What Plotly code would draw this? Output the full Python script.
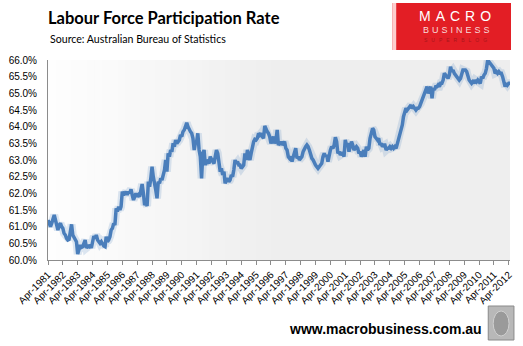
import pandas as pd
import plotly.graph_objects as go

# Monthly participation rate (%), April 1981 onward, one row per April-March year
rate = [
    61.2, 61.1, 61.0, 61.1, 61.2, 61.35, 61.2, 61.0, 60.9, 61.05, 61.1, 61.0,
    60.95, 60.8, 60.75, 60.65, 60.6, 60.62, 60.8, 61.07, 60.75, 60.66, 60.6, 60.55,
    60.18, 60.3, 60.45, 60.38, 60.4, 60.5, 60.6, 60.36, 60.42, 60.4, 60.45, 60.36,
    60.5, 60.72, 60.65, 60.75, 60.6, 60.55, 60.5, 60.55, 60.45, 60.42, 60.4, 60.7,
    60.55, 60.6, 60.7, 60.9, 60.95, 61.1, 61.05, 61.55, 61.45, 61.6, 61.5, 61.6,
    62.05, 61.95, 62.0, 62.05, 61.95, 62.05, 62.0, 62.12, 61.95, 61.8, 61.9, 62.0,
    61.9, 61.95, 61.9, 62.1, 62.28, 62.0, 61.65, 61.7, 61.62, 62.35, 62.2, 62.45,
    62.8, 62.5, 62.35, 62.1, 61.85, 62.35, 62.3, 62.45, 62.4, 62.55, 62.7, 63.0,
    62.65, 63.2, 63.1, 63.3, 63.25, 63.5, 63.4, 63.6, 63.5, 63.55, 63.6, 63.75,
    63.7, 63.85, 63.9, 64.0, 64.12, 64.0, 63.9, 63.85, 63.8, 63.65, 63.3, 63.5,
    63.55, 63.8, 63.3, 63.1, 62.45, 63.2, 63.3, 62.85, 63.0, 62.95, 62.9, 63.1,
    63.0, 62.95, 62.9, 63.05, 63.3, 63.2, 62.9, 62.65, 62.75, 62.55, 62.65, 62.3,
    62.4, 62.45, 62.35, 62.4, 62.55, 62.5, 62.7, 63.0, 62.9, 62.95, 62.85, 62.85,
    62.75, 62.8, 62.85, 63.2, 63.0, 63.3, 63.15, 63.0, 63.2, 63.4, 63.55, 63.62,
    63.6, 63.65, 63.8, 63.75, 63.8, 63.7, 63.65, 64.02, 63.9, 63.85, 63.8, 63.7,
    63.5, 63.6, 63.7, 63.5, 63.6, 63.9, 63.45, 63.5, 63.55, 63.45, 63.5, 63.55,
    63.35, 63.3, 63.1, 63.05, 63.1, 62.95, 63.1, 63.2, 63.35, 63.05, 63.1, 63.0,
    63.05, 63.1, 63.25, 63.35, 63.4, 63.45, 63.4, 63.3, 63.15, 63.05, 63.0, 62.9,
    62.85, 62.8, 62.75, 62.8, 62.85, 62.9, 63.1, 63.2, 63.1, 63.15, 62.95, 63.2,
    63.3, 63.4, 63.35, 63.45, 63.68, 63.55, 63.2, 63.25, 63.15, 63.2, 63.2, 63.1,
    63.6, 63.45, 63.5, 63.25, 63.4, 63.55, 63.45, 63.3, 63.35, 63.4, 63.35, 63.2,
    63.25, 63.1, 63.2, 63.3, 63.1, 63.4, 63.3, 63.35, 63.65, 63.8, 63.95, 63.9,
    63.7, 63.65, 63.6, 63.65, 63.45, 63.5, 63.4, 63.45, 63.45, 63.3, 63.35, 63.35,
    63.4, 63.35, 63.4, 63.35, 63.4, 63.35, 63.5, 63.6, 63.7, 63.85, 64.05, 64.3,
    64.45, 64.55, 64.5, 64.55, 64.6, 64.65, 64.55, 64.6, 64.55, 64.5, 64.55, 64.55,
    64.6, 64.7, 64.8, 64.85, 64.95, 65.05, 65.2, 65.0, 65.1, 65.2, 64.85, 65.15,
    65.1, 65.2, 65.2, 65.25, 65.2, 65.3, 65.3, 65.4, 65.6, 65.55, 65.5, 65.45,
    65.55, 65.8, 65.65, 65.7, 65.6, 65.55, 65.5, 65.45, 65.4, 65.45, 65.55, 65.7,
    65.7, 65.7, 65.65, 65.5, 65.4, 65.35, 65.3, 65.35, 65.3, 65.4, 65.35, 65.4,
    65.35, 65.3, 65.5, 65.45, 65.55, 65.6, 65.75, 66.0, 65.95, 65.9, 65.85, 65.8,
    65.75, 65.6, 65.65, 65.6, 65.65, 65.6, 65.6, 65.5, 65.35, 65.2, 65.3, 65.25,
    65.3, 65.3,
]
months = pd.date_range("1981-04-01", periods=len(rate), freq="MS")

title_text = "Labour Force Participation Rate"
source_text = "Source: Australian Bureau of Statistics"
site_text = "www.macrobusiness.com.au"

LINE = "#4a7ebb"

# figure geometry (pixels) and the plot area inside it
W, H = 523, 346
ML, MR, MT, MB = 47, 9, 60, 86
PW, PH = W - ML - MR, H - MT - MB


def px(x):
    """figure pixel column -> paper x"""
    return (x - ML) / PW


def py(y):
    """figure pixel row (from top) -> paper y"""
    return (H - MB - y) / PH


fig = go.Figure()
# soft halo under the series
fig.add_trace(go.Scatter(x=months, y=rate, mode="lines",
                         line=dict(color="rgba(74,126,187,0.18)", width=8),
                         hoverinfo="skip", showlegend=False))
fig.add_trace(go.Scatter(x=months, y=rate, mode="lines",
                         line=dict(color=LINE, width=3.5),
                         showlegend=False))

# plot-area background: white fading to light grey, drawn as narrow bands
shapes = []
n_bands = 30
fade_end = 0.5
for i in range(n_bands):
    t = i / (n_bands - 1)
    g = round(254 - (254 - 238) * t)
    shapes.append(dict(type="rect", xref="x domain", yref="y domain",
                       x0=fade_end * i / n_bands, x1=fade_end * (i + 1) / n_bands + 0.002,
                       y0=0, y1=1, fillcolor=f"rgb({g},{g},{g})",
                       line=dict(width=0), layer="below"))
shapes.append(dict(type="rect", xref="x domain", yref="y domain",
                   x0=fade_end, x1=1, y0=0, y1=1, fillcolor="rgb(238,238,238)",
                   line=dict(width=0), layer="below"))

# header badge
shapes.append(dict(type="rect", xref="paper", yref="paper",
                   x0=px(395), x1=px(515), y0=py(50), y1=py(3),
                   fillcolor="#e31e25", line=dict(width=0), layer="above"))
shapes.append(dict(type="rect", xref="paper", yref="paper",
                   x0=px(395), x1=px(399), y0=py(50), y1=py(3),
                   fillcolor="rgba(255,225,225,0.9)", line=dict(width=0), layer="above"))
# footer emblem
shapes.append(dict(type="rect", xref="paper", yref="paper",
                   x0=px(492), x1=px(518), y0=py(340), y1=py(306),
                   fillcolor="#b8b8b8", line=dict(color="#8a8a8a", width=1), layer="above"))
shapes.append(dict(type="circle", xref="paper", yref="paper",
                   x0=px(497), x1=px(513), y0=py(336), y1=py(311),
                   fillcolor="#9a9a9a", line=dict(color="#d0d0d0", width=1), layer="above"))

HEAD_FONT = "Lato, Liberation Sans"
annotations = [
    dict(text=f"<b>{title_text}</b>", x=px(45), y=py(18), xref="paper", yref="paper",
         xanchor="left", yanchor="middle", showarrow=False,
         font=dict(family=HEAD_FONT, size=16.5, color="#000")),
    dict(text=source_text, x=px(47), y=py(39), xref="paper", yref="paper",
         xanchor="left", yanchor="middle", showarrow=False,
         font=dict(family=HEAD_FONT, size=10.6, color="#000")),
    dict(text='<span style="letter-spacing:5px">MACRO</span>', x=px(461), y=py(16),
         xref="paper", yref="paper", xanchor="center", yanchor="middle", showarrow=False,
         font=dict(family="Liberation Sans", size=14, color="#ffffff")),
    dict(text='<span style="letter-spacing:3px">BUSINESS</span>', x=px(461), y=py(30),
         xref="paper", yref="paper", xanchor="center", yanchor="middle", showarrow=False,
         font=dict(family="Liberation Sans", size=9, color="#f8dada")),
    dict(text='<span style="letter-spacing:4px">SUPERBLOG</span>', x=px(461), y=py(40),
         xref="paper", yref="paper", xanchor="center", yanchor="middle", showarrow=False,
         font=dict(family="Liberation Sans", size=5, color="#a8161b")),
    dict(text=f"<b>{site_text}</b>", x=px(488), y=py(329), xref="paper", yref="paper",
         xanchor="right", yanchor="middle", showarrow=False,
         font=dict(family="Liberation Sans", size=14, color="#000")),
]

fig.update_layout(
    width=W, height=H,
    margin=dict(l=ML, r=MR, t=MT, b=MB),
    paper_bgcolor="white", plot_bgcolor="rgba(0,0,0,0)",
    shapes=shapes, annotations=annotations,
    xaxis=dict(type="date", range=[months[0], months[-1]],
               tick0="1981-04-01", dtick="M12", tickformat="%b-%Y", tickangle=-45,
               showgrid=False, zeroline=False, showline=True, linecolor="#8c8c8c", linewidth=1,
               ticks="outside", ticklen=4, tickcolor="#8c8c8c",
               tickfont=dict(family="Liberation Sans", size=10, color="#000")),
    yaxis=dict(range=[60, 66], dtick=0.5, tickformat=".1f", ticksuffix="%",
               showgrid=False, zeroline=False, showline=True, linecolor="#8c8c8c", linewidth=1,
               ticks="", ticklabelstandoff=8,
               tickfont=dict(family="Liberation Sans", size=10, color="#000")),
)

fig.write_html("out.html")
